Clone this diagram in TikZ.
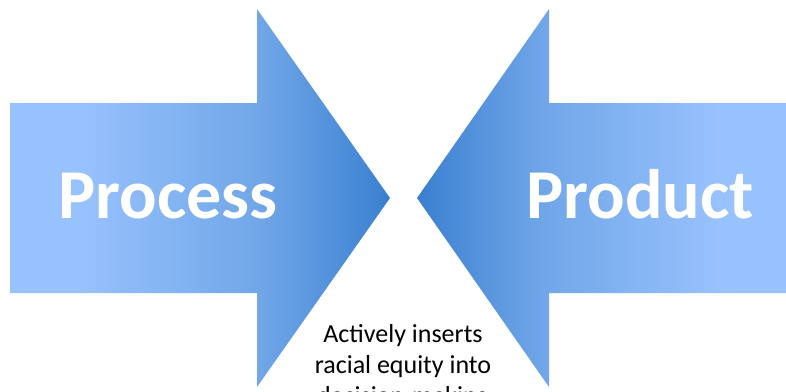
\documentclass[tikz,border=0pt]{standalone}
\usepackage{fontspec}
\setmainfont{Carlito}
\usepackage{xcolor}
\definecolor{ColLight}{RGB}{152,194,253}
\definecolor{ColMid}{RGB}{112,166,232}
\definecolor{ColDark}{RGB}{58,128,208}
\pgfdeclarehorizontalshading{ArrowShade}{100bp}{color(0bp)=(ColLight);
  color(34bp)=(ColLight); color(58bp)=(ColMid); color(75bp)=(ColDark);
  color(100bp)=(ColDark)}
\tikzstyle{Arrow}=[shading=ArrowShade,draw=none]
\tikzstyle{Label}=[text=white,anchor=base,inner sep=0pt,
font=\fontsize{70}{84}\selectfont\bfseries]
\tikzstyle{Note}=[text=black,anchor=base,align=center,inner sep=0pt,
font=\fontsize{26}{31}\selectfont]

\begin{document}
\begin{tikzpicture}[x=1pt,y=-1pt]
        \useasboundingbox (0,0) rectangle (786,391);
        % left arrow, pointing right
        \path[Arrow](10,103)--(257,103)--(257,9)--(390,198)
            --(257,387)--(257,293)--(10,293)--cycle;
        % right arrow, pointing left
        \path[Arrow,shading angle=180](786,103)--(549,103)--(549,9)
            --(417,198)--(549,387)--(549,293)--(786,293)--cycle;
        \node[Label](process)at(168,218){Process};
        \node[Label](product)at(640,218){Product};
        % base is the last line here, which runs off the page
        \node[Note](note)at(403,404)
            {Actively inserts\\racial equity into\\decision-making};
    \end{tikzpicture}
\end{document}
